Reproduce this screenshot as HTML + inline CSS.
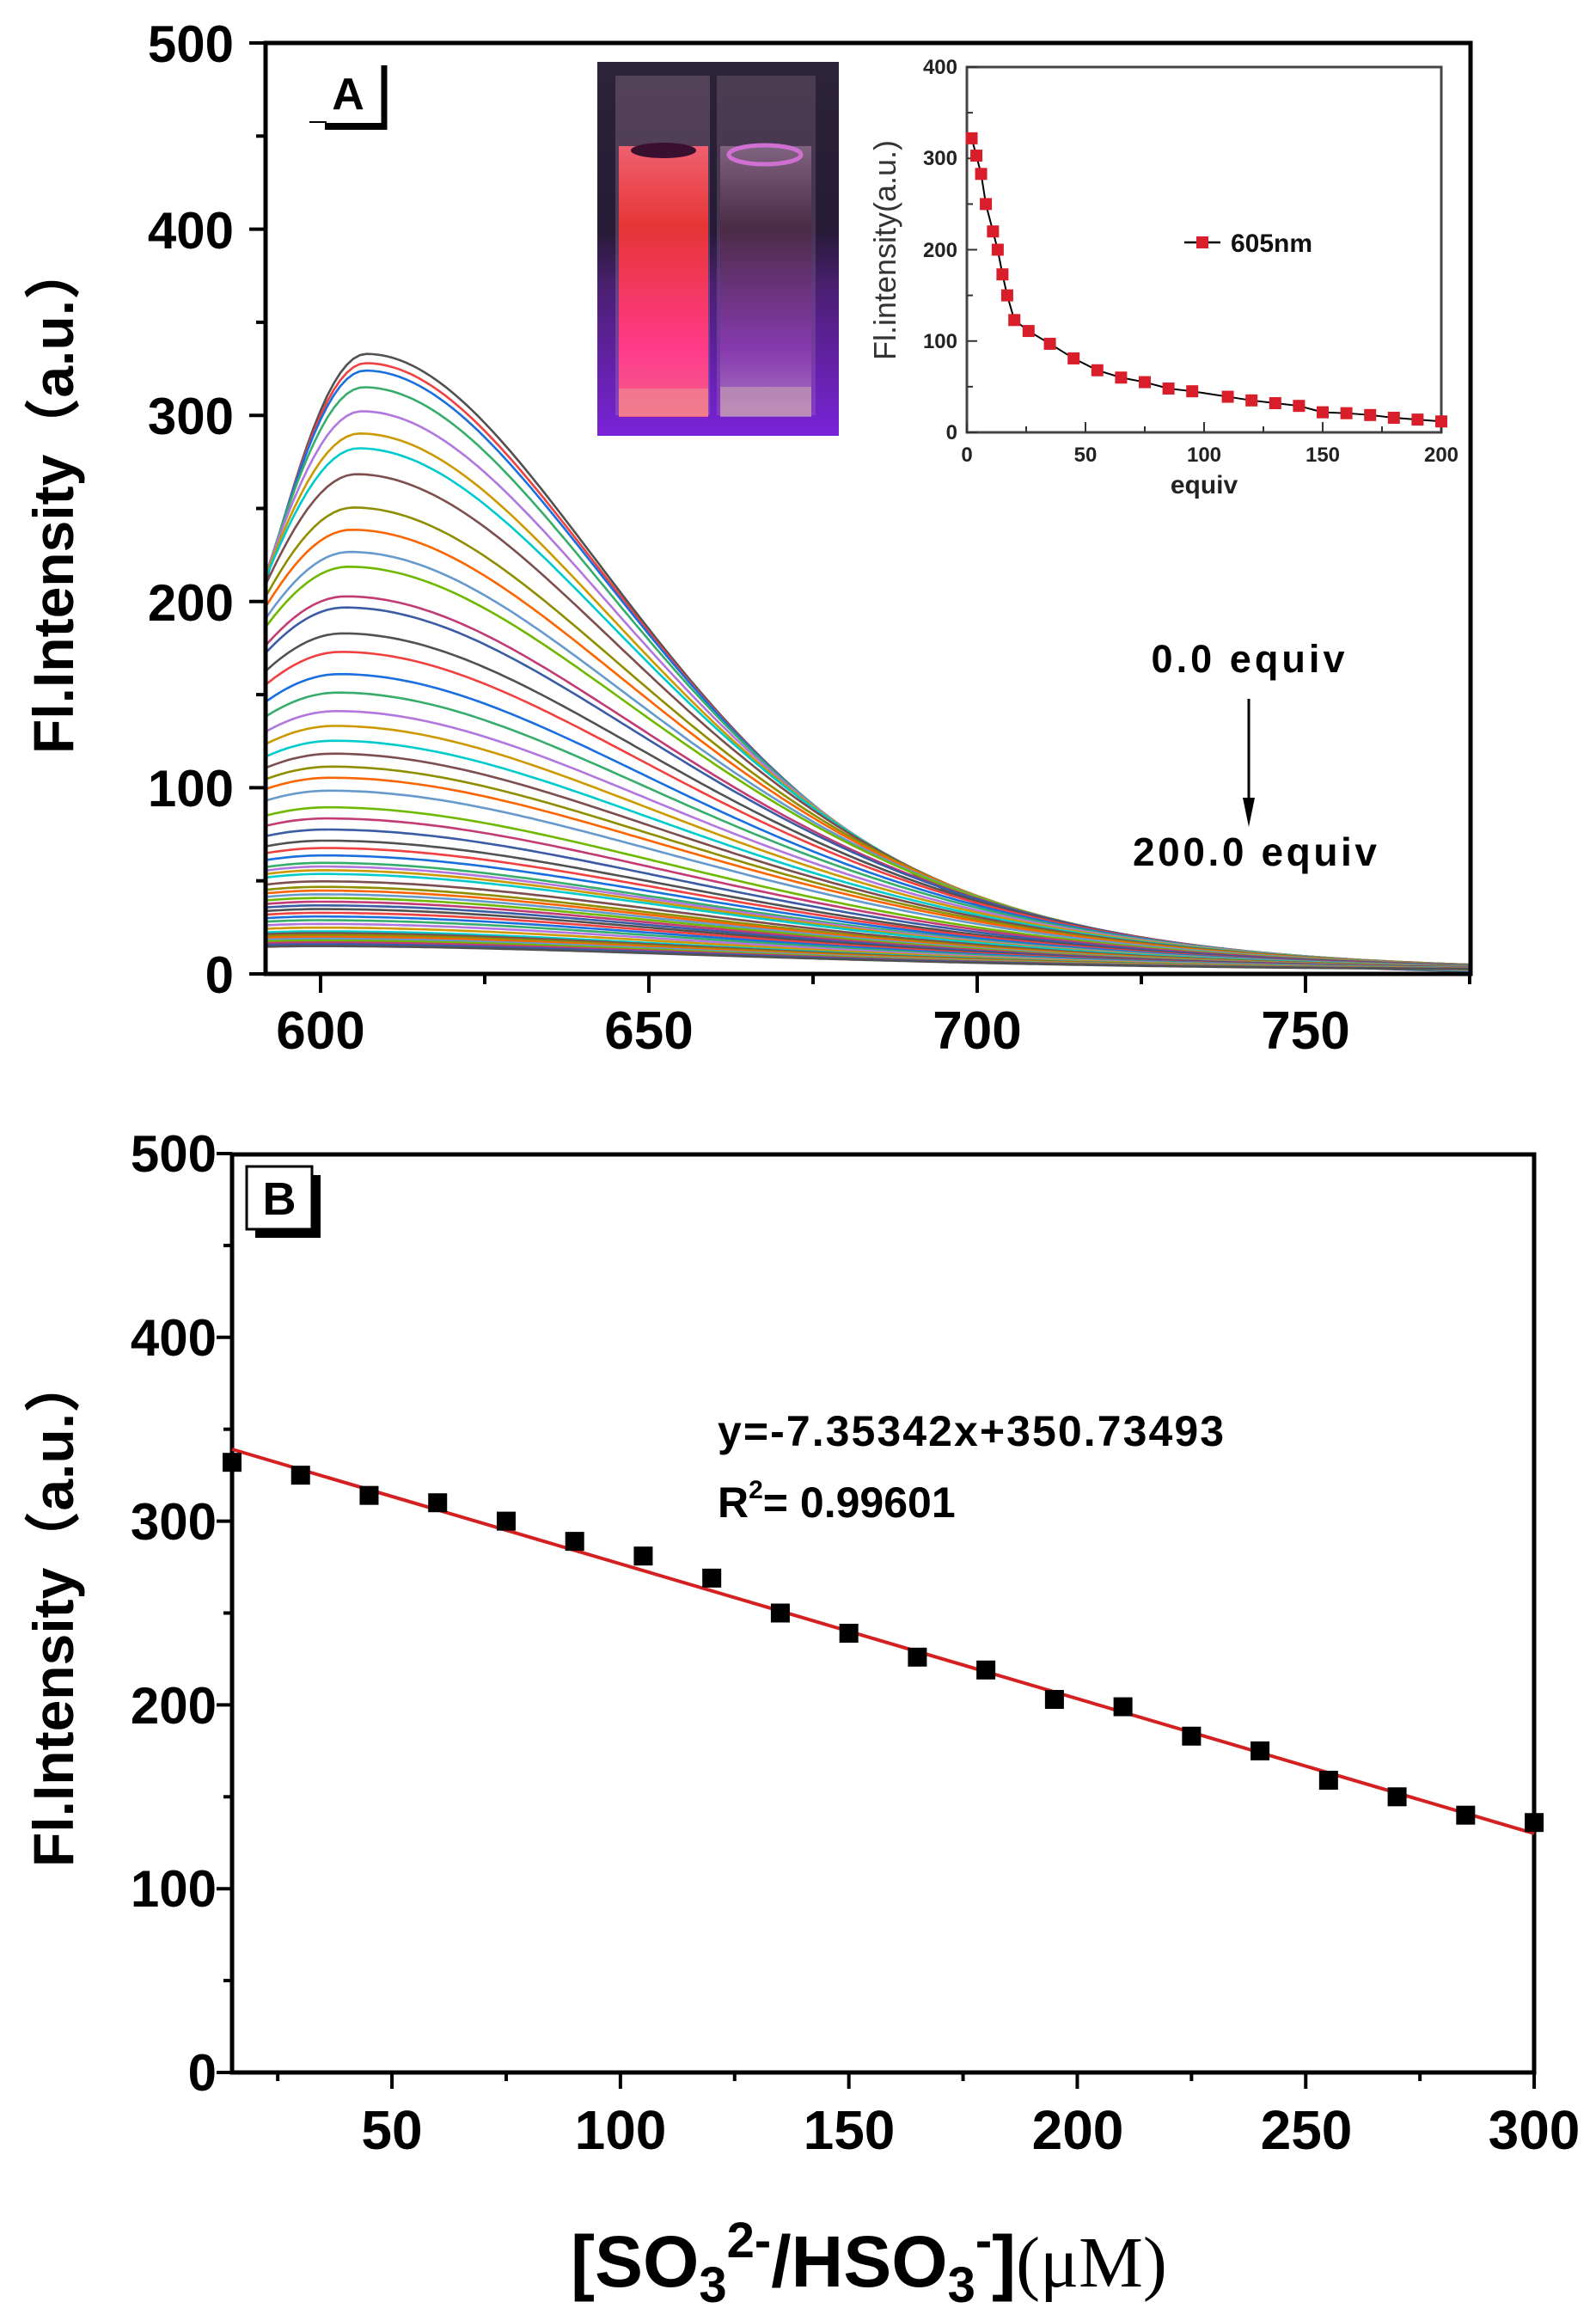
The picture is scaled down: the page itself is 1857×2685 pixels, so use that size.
<!DOCTYPE html>
<html><head><meta charset="utf-8"><style>
html,body{margin:0;padding:0;background:#fff;}
svg{display:block;}
text{font-family:"Liberation Sans","Noto Sans CJK SC",sans-serif;}
</style></head><body>
<svg id="s" width="1857" height="2685" viewBox="0 0 1857 2685" xmlns="http://www.w3.org/2000/svg">
<defs>
<linearGradient id="bg" x1="0" y1="0" x2="0" y2="1">
<stop offset="0" stop-color="#2c2438"/><stop offset="0.45" stop-color="#261a36"/><stop offset="0.6" stop-color="#4a2070"/><stop offset="1" stop-color="#7a22d8"/></linearGradient>
<linearGradient id="liq" x1="0" y1="0" x2="0" y2="1">
<stop offset="0" stop-color="#f06070"/><stop offset="0.3" stop-color="#e63535"/><stop offset="0.75" stop-color="#ff3a8a"/><stop offset="1" stop-color="#f0608a"/></linearGradient>
<linearGradient id="liq2" x1="0" y1="0" x2="0" y2="1">
<stop offset="0" stop-color="#8a6a8a"/><stop offset="0.3" stop-color="#4a2a44"/><stop offset="0.75" stop-color="#8a3ab0"/><stop offset="1" stop-color="#b080c0"/></linearGradient>
<clipPath id="cA"><rect x="309" y="50" width="1402" height="1083"/></clipPath>
</defs>
<g id="curves" clip-path="url(#cA)" fill="none" stroke-width="2.6"></g>

<rect x="309" y="50" width="1402" height="1083" fill="none" stroke="#000" stroke-width="5"/>
<g id="ticksA" stroke="#000" stroke-width="4"></g>
<g font-weight="bold" font-size="60" text-anchor="end" fill="#000">
<text x="272" y="72">500</text><text x="272" y="289">400</text><text x="272" y="505">300</text>
<text x="272" y="722">200</text><text x="272" y="938">100</text><text x="272" y="1155">0</text>
</g>
<g font-weight="bold" font-size="62" text-anchor="middle" fill="#000">
<text x="373" y="1220">600</text><text x="755" y="1220">650</text><text x="1137" y="1220">700</text><text x="1519" y="1220">750</text>
</g>
<text transform="translate(85,580) rotate(-90)" font-weight="bold" font-size="66" text-anchor="middle">Fl.Intensity（a.u.）</text>

<g>
<text x="405" y="127" font-weight="bold" font-size="52" text-anchor="middle">A</text>
<line x1="447" y1="76" x2="447" y2="151" stroke="#000" stroke-width="7"/>
<line x1="378" y1="147" x2="450" y2="147" stroke="#000" stroke-width="8"/>
<line x1="360" y1="142" x2="380" y2="142" stroke="#000" stroke-width="2"/>
</g>

<rect x="695" y="72" width="281" height="435" fill="url(#bg)"/>
<rect x="716" y="88" width="110" height="395" fill="#c8a0b8" opacity="0.25"/>
<rect x="834" y="88" width="115" height="395" fill="#c8a0b8" opacity="0.2"/>
<rect x="720" y="170" width="104" height="315" fill="url(#liq)"/>
<rect x="838" y="170" width="106" height="315" fill="url(#liq2)" opacity="0.85"/>
<ellipse cx="772" cy="175" rx="38" ry="9" fill="#3a1030"/>
<ellipse cx="890" cy="180" rx="42" ry="11" fill="none" stroke="#d070d0" stroke-width="5"/>
<rect x="720" y="452" width="104" height="32" fill="#f09090" opacity="0.6"/>
<rect x="838" y="450" width="106" height="34" fill="#c8a0b0" opacity="0.6"/>

<rect x="1125" y="78" width="552" height="425" fill="none" stroke="#444" stroke-width="3"/>
<g id="ticksI" stroke="#333" stroke-width="2"></g>
<g font-size="24" font-weight="bold" text-anchor="end" fill="#222">
<text x="1114" y="86">400</text><text x="1114" y="192">300</text><text x="1114" y="299">200</text><text x="1114" y="405">100</text><text x="1114" y="511">0</text>
</g>
<g font-size="24" font-weight="bold" text-anchor="middle" fill="#222">
<text x="1125" y="537">0</text><text x="1263" y="537">50</text><text x="1401" y="537">100</text><text x="1539" y="537">150</text><text x="1677" y="537">200</text>
</g>
<text x="1401" y="574" font-size="30" font-weight="bold" text-anchor="middle" fill="#222">equiv</text>
<text transform="translate(1042,291) rotate(-90)" font-size="36" text-anchor="middle" fill="#333">Fl.intensity(a.u.)</text>
<g id="inset"></g>
<line x1="1378" y1="282" x2="1420" y2="282" stroke="#000" stroke-width="2.5"/>
<rect x="1392" y="275" width="14" height="14" fill="#d81e2a"/>
<text x="1432" y="293" font-size="30" font-weight="bold" fill="#111">605nm</text>

<text x="1452" y="782" font-weight="bold" font-size="45" text-anchor="middle" textLength="225">0.0 equiv</text>
<line x1="1453" y1="813" x2="1453" y2="935" stroke="#000" stroke-width="3"/>
<polygon points="1446,928 1460,928 1453,962" fill="#000"/>
<text x="1460" y="1007" font-weight="bold" font-size="46" text-anchor="middle" textLength="284">200.0 equiv</text>

<rect x="270" y="1343" width="1515" height="1068" fill="none" stroke="#000" stroke-width="5"/>
<g id="ticksB" stroke="#000" stroke-width="4"></g>
<g font-weight="bold" font-size="60" text-anchor="end" fill="#000">
<text x="252" y="1363">500</text><text x="252" y="1577">400</text><text x="252" y="1791">300</text>
<text x="252" y="2005">200</text><text x="252" y="2218">100</text><text x="252" y="2432">0</text>
</g>
<g font-weight="bold" font-size="64" text-anchor="middle" fill="#000">
<text x="456" y="2500">50</text><text x="722" y="2500">100</text><text x="988" y="2500">150</text>
<text x="1254" y="2500">200</text><text x="1520" y="2500">250</text><text x="1785" y="2500">300</text>
</g>
<text transform="translate(85,1875) rotate(-90)" font-weight="bold" font-size="66" text-anchor="middle">Fl.Intensity（a.u.）</text>
<text x="664" y="2660" font-weight="bold" font-size="84" fill="#000">[SO<tspan font-size="58" dy="18">3</tspan><tspan font-size="58" dy="-52">2-</tspan><tspan dy="34">/HSO</tspan><tspan font-size="58" dy="18">3</tspan><tspan font-size="58" dy="-52">-</tspan><tspan dy="34">]</tspan><tspan font-family="Liberation Serif,serif" font-weight="normal">(μM)</tspan></text>

<rect x="297" y="1367" width="76" height="73" fill="#000"/>
<rect x="287" y="1357" width="76" height="73" fill="#fff" stroke="#000" stroke-width="3"/>
<text x="325" y="1413" font-weight="bold" font-size="54" text-anchor="middle">B</text>

<line x1="270" y1="1686" x2="1785" y2="2133" stroke="#d42020" stroke-width="4"/>
<g id="ptsB" fill="#000"></g>
<text x="835" y="1682" font-weight="bold" font-size="50" textLength="589">y=-7.35342x+350.73493</text>
<text x="835" y="1765" font-weight="bold" font-size="50">R<tspan font-size="30" dy="-22">2</tspan><tspan dy="22">= 0.99601</tspan></text>
</svg>
<script>
var NS="http://www.w3.org/2000/svg";
function el(p,t,a){var e=document.createElementNS(NS,t);for(var k in a)e.setAttribute(k,a[k]);p.appendChild(e);return e;}
var tA=document.getElementById('ticksA');
for(var v=0;v<=500;v+=50){var y=1133-v*2.166;el(tA,'line',{x1:v%100?298:290,y1:y,x2:309,y2:y});}
for(var w=600;w<=775;w+=25){var x=373+(w-600)*7.64;el(tA,'line',{x1:x,y1:1133,x2:x,y2:w%50?1145:1155});}
var cols=['#515151','#F14040','#1A6FDF','#37AD6B','#B177DE','#CC9900','#00CBCC','#7D4E4E','#8E8E00','#FB6501','#6699CC','#6FB802','#C23B75','#3B5BA5'];
var peaks=[333,328,324,315,302,290,282,268,250,238,226,218,202,196,182,172,160,150,140,132,124,117,110,104,97,88,82,76,70,66,62,58,56,54,52,48,45,43,41,39,37,35,33,31,29,27,25,23,21,20,19,18,17,16,15,14,13];
function right(d){return Math.exp(-(d*d/(2*35*35))/(1+d/150));}
var g=document.getElementById('curves');
peaks.forEach(function(p,i){
 var f=p/333, pk=599+8*f, sl=16+(1-f)*18, tail=1+(1-f)*0.6;
 var d='';
 for(var w=590;w<=776;w+=1){
  var v;
  if(w<pk){v=p*Math.exp(-(w-pk)*(w-pk)/(2*sl*sl));}
  else{v=p*right((w-pk)/tail);}
  v+=(1-f)*2;
  var x=373+(w-600)*7.64,y=1133-v*2.166;
  d+=(d?'L':'M')+x.toFixed(1)+','+y.toFixed(1);
 }
 el(g,'path',{d:d,stroke:cols[i%cols.length]});
});
var tI=document.getElementById('ticksI');
function ix(v){return 1125+v*2.76;}function iy(v){return 503-v*1.0625;}
for(var v=0;v<=400;v+=50){el(tI,'line',{x1:1125,y1:iy(v),x2:v%100?1132:1137,y2:iy(v)});}
for(var v=0;v<=200;v+=25){el(tI,'line',{x1:ix(v),y1:503,x2:ix(v),y2:v%50?496:491});}
var dat=[[2,322],[4,303],[6,283],[8,250],[11,220],[13,200],[15,173],[17,150],[20,123],[26,111],[35,97],[45,81],[55,68],[65,60],[75,55],[85,48],[95,45],[110,39],[120,35],[130,32],[140,29],[150,22],[160,21],[170,19],[180,16],[190,14],[200,12]];
var ins=document.getElementById('inset');var dd='';
dat.forEach(function(q,i){dd+=(i?'L':'M')+ix(q[0])+','+iy(q[1]);});
el(ins,'path',{d:dd,fill:'none',stroke:'#000','stroke-width':2});
dat.forEach(function(q){el(ins,'rect',{x:ix(q[0])-7,y:iy(q[1])-7,width:14,height:14,fill:'#d81e2a'});});
var tB=document.getElementById('ticksB');
function bx(v){return 270+(v-15)*5.316;}function by(v){return 2411-v*2.138;}
for(var v=0;v<=500;v+=50){el(tB,'line',{x1:v%100?260:252,y1:by(v),x2:270,y2:by(v)});}
for(var v=25;v<=300;v+=25){el(tB,'line',{x1:bx(v),y1:2411,x2:bx(v),y2:v%50?2421:2430});}
var vb=[332,325,314,310,300,289,281,269,250,239,226,219,203,199,183,175,159,150,140,136];
var pb=document.getElementById('ptsB');
vb.forEach(function(v,i){var x=bx(15+15*i),y=by(v);el(pb,'rect',{x:x-11,y:y-11,width:22,height:22});});
</script>
</body></html>
